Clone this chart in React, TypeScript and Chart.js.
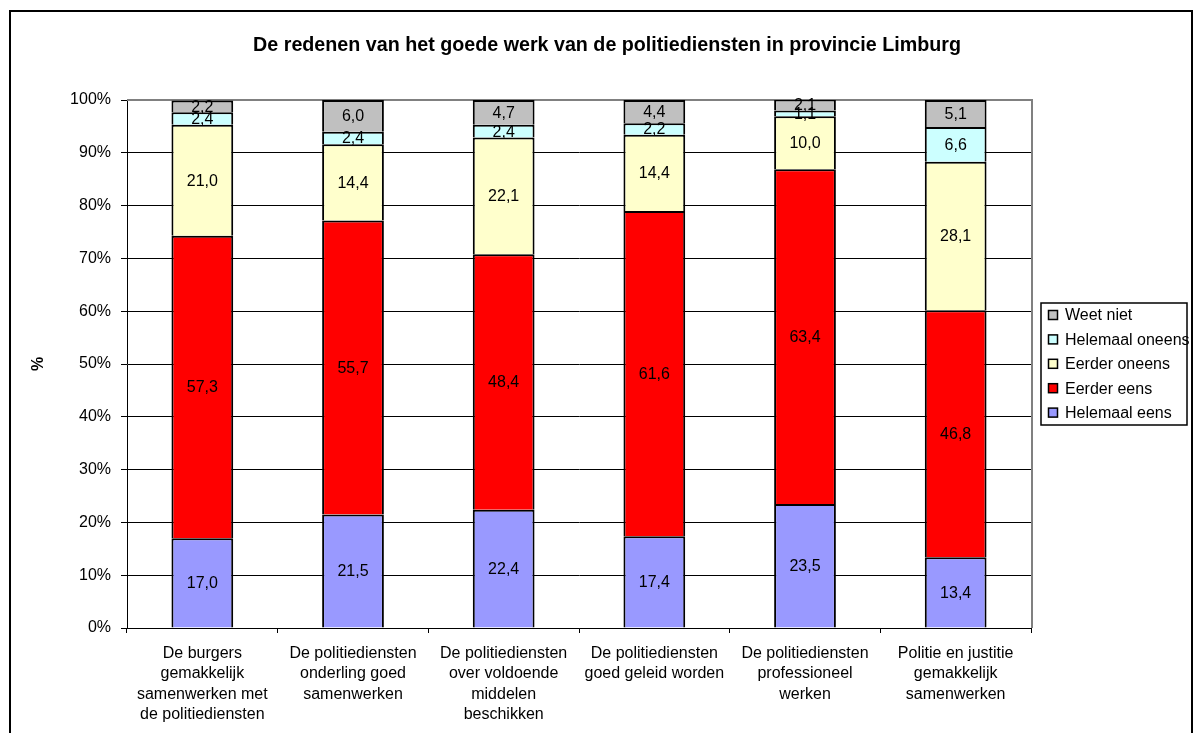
import React, { useEffect, useRef } from "react";
import { Chart, registerables } from "chart.js";

Chart.register(...registerables);

const TITLE = "De redenen van het goede werk van de politiediensten in provincie Limburg";
const categories: string[][] = [
  ["De burgers", "gemakkelijk", "samenwerken met", "de politiediensten"],
  ["De politiediensten", "onderling goed", "samenwerken"],
  ["De politiediensten", "over voldoende", "middelen", "beschikken"],
  ["De politiediensten", "goed geleid worden"],
  ["De politiediensten", "professioneel", "werken"],
  ["Politie en justitie", "gemakkelijk", "samenwerken"],
];
const helemaalEens = [17.0, 21.5, 22.4, 17.4, 23.5, 13.4];
const eerderEens = [57.3, 55.7, 48.4, 61.6, 63.4, 46.8];
const eerderOneens = [21.0, 14.4, 22.1, 14.4, 10.0, 28.1];
const helemaalOneens = [2.4, 2.4, 2.4, 2.2, 1.1, 6.6];
const weetNiet = [2.2, 6.0, 4.7, 4.4, 2.1, 5.1];
const yTicks = [0, 10, 20, 30, 40, 50, 60, 70, 80, 90, 100];

const FONT = "'Liberation Sans', Arial, sans-serif";
const W = 1186;
const H = 725;

const chartPlugin = {
  id: "excelDecor",
  beforeDatasetsDraw(chart: any) {
    const { ctx, chartArea } = chart;
    ctx.save();
    ctx.strokeStyle = "#808080";
    ctx.lineWidth = 2;
    ctx.beginPath();
    ctx.moveTo(chartArea.left, chartArea.top);
    ctx.lineTo(chartArea.right + 1, chartArea.top);
    ctx.lineTo(chartArea.right + 1, chartArea.bottom);
    ctx.stroke();
    ctx.restore();
  },
  afterDatasetsDraw(chart: any) {
    const { ctx } = chart;
    ctx.save();
    ctx.font = `16px ${FONT}`;
    ctx.fillStyle = "#000";
    ctx.textAlign = "center";
    ctx.textBaseline = "middle";
    chart.data.datasets.forEach((ds: any, di: number) => {
      const meta = chart.getDatasetMeta(di);
      meta.data.forEach((bar: any, i: number) => {
        const v = ds.data[i] as number;
        const y = (bar.y + bar.base) / 2;
        ctx.fillText(v.toFixed(1).replace(".", ","), bar.x, y + 1);
      });
    });
    ctx.restore();
  },
  afterDraw(chart: any) {
    const { ctx } = chart;
    ctx.save();
    // outer border
    ctx.strokeStyle = "#000";
    ctx.lineWidth = 2;
    ctx.strokeRect(2, 3, 1182, 760);
    // title
    ctx.font = `bold 19.7px ${FONT}`;
    ctx.fillStyle = "#000";
    ctx.textAlign = "center";
    ctx.textBaseline = "alphabetic";
    ctx.fillText(TITLE, 599, 43);
    // legend
    const lx = 1033, ly = 295, lw = 146, lh = 122;
    ctx.lineWidth = 1.5;
    ctx.strokeRect(lx, ly, lw, lh);
    const items = [...chart.data.datasets].map((d: any, i: number) => ({ d, i })).reverse();
    ctx.font = `16px ${FONT}`;
    ctx.textAlign = "left";
    ctx.textBaseline = "middle";
    items.forEach((it: any, k: number) => {
      const cy = ly + 12 + k * 24.4;
      ctx.fillStyle = it.d.backgroundColor;
      ctx.fillRect(lx + 7.5, cy - 4.5, 9, 9);
      ctx.lineWidth = 1.5;
      ctx.strokeStyle = "#000";
      ctx.strokeRect(lx + 7.5, cy - 4.5, 9, 9);
      ctx.fillStyle = "#000";
      ctx.fillText(it.d.label, lx + 24, cy + 1);
    });
    ctx.restore();
  },
};

export default function App() {
  const ref = useRef<HTMLCanvasElement | null>(null);
  useEffect(() => {
    document.body.style.overflow = "hidden";
    const canvas = ref.current!;
    const mk = (label: string, data: number[], color: string) => ({
      label,
      data,
      backgroundColor: color,
      borderColor: "#000",
      borderWidth: { top: 2, left: 2, right: 2, bottom: 0 },
      borderSkipped: false,
      barPercentage: 0.41,
      categoryPercentage: 1,
    });
    const chart = new Chart(canvas, {
      type: "bar",
      data: {
        labels: categories,
        datasets: [
          mk("Helemaal eens", helemaalEens, "#9999FF"),
          mk("Eerder eens", eerderEens, "#FF0000"),
          mk("Eerder oneens", eerderOneens, "#FFFFCC"),
          mk("Helemaal oneens", helemaalOneens, "#CCFFFF"),
          mk("Weet niet", weetNiet, "#C0C0C0"),
        ],
      },
      options: {
        animation: false,
        responsive: false,
        devicePixelRatio: 1,
        layout: { padding: { left: 0, top: 92, right: W - 1023, bottom: 0 } },
        plugins: {
          legend: { display: false },
          title: { display: false },
          tooltip: { enabled: false },
        },
        scales: {
          x: {
            stacked: true,
            offset: true,
            grid: {
              display: true,
              drawOnChartArea: false,
              drawTicks: true,
              tickLength: 5,
              color: "#000",
              offset: true,
            },
            border: { display: true, color: "#000", width: 1 },
            ticks: {
              autoSkip: false,
              maxRotation: 0,
              minRotation: 0,
              padding: 10,
              color: "#000",
              font: { family: FONT, size: 16, lineHeight: 1.28 },
            },
            afterFit(scale: any) {
              scale.height = H - 620;
            },
          },
          y: {
            stacked: true,
            min: 0,
            max: 100,
            afterBuildTicks(scale: any) {
              scale.ticks = yTicks.map((v) => ({ value: v }));
            },
            grid: {
              color: (c: any) => (c.tick && c.tick.value === 100 ? "rgba(0,0,0,0)" : "#000"),
              lineWidth: 1,
              tickLength: 6,
              drawTicks: true,
              tickColor: "#000",
            },
            border: { display: true, color: "#000", width: 1 },
            ticks: {
              padding: 10,
              color: "#000",
              font: { family: FONT, size: 16 },
              callback: (v: any) => `${v}%`,
            },
            title: {
              display: true,
              text: "%",
              color: "#000",
              font: { family: FONT, size: 16, weight: "bold" },
              padding: { top: 21, bottom: 0 },
            },
            afterFit(scale: any) {
              scale.width = 119;
            },
          },
        },
      },
      plugins: [chartPlugin],
    } as any);
    return () => chart.destroy();
  }, []);
  return (
    <canvas ref={ref} width={W} height={H} style={{ display: "block", width: W, height: H }} />
  );
}
